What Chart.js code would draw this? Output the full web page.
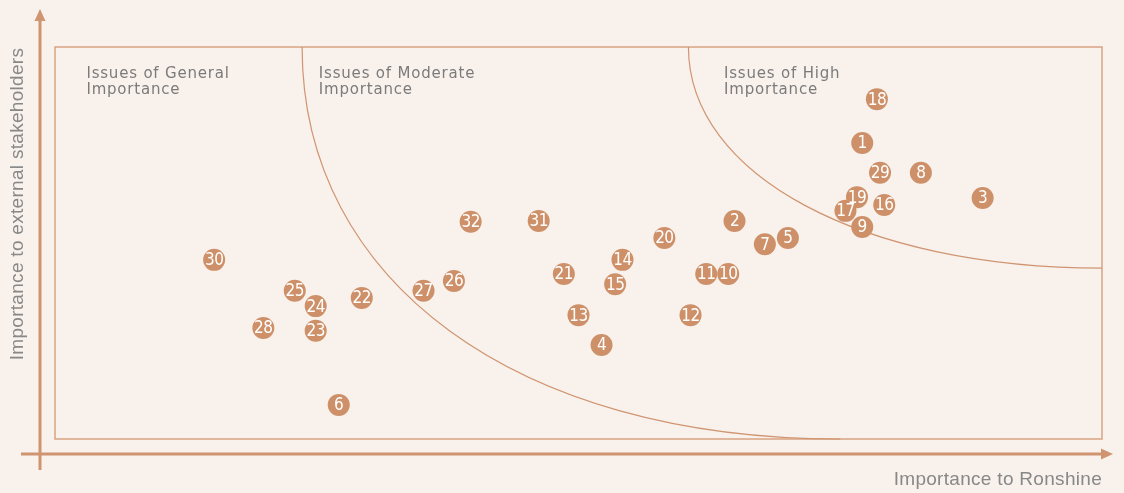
<!DOCTYPE html>
<html>
<head>
<meta charset="utf-8">
<script src="https://cdn.jsdelivr.net/npm/chart.js@4"></script>
<style>
  html, body { margin: 0; padding: 0; background: #f8f1ec; }
  #wrap { width: 1124px; height: 493px; position: relative; }
</style>
</head>
<body>
<div id="wrap"><canvas id="matrix"></canvas></div>
<script>
// issue numbers and their scores (0-100 on both axes)
const issueIds = [1,2,3,4,5,6,7,8,9,10,11,12,13,14,15,16,17,18,19,20,21,22,23,24,25,26,27,28,29,30,31,32];
const ronshineScores = [77.1,64.9,88.6,52.2,70.0,27.1,67.8,82.7,77.1,64.3,62.2,60.7,50.0,54.2,53.5,79.2,75.5,78.5,76.6,58.2,48.6,29.3,24.9,24.9,22.9,38.1,35.2,19.9,78.8,15.2,46.2,39.7];
const stakeholderScores = [75.5,55.6,61.5,24.0,51.3,8.7,49.7,67.9,54.1,42.1,42.1,31.6,31.6,45.7,39.5,59.7,58.2,86.7,61.7,51.3,42.1,36.0,27.6,33.9,37.8,40.3,37.8,28.3,67.9,45.7,55.6,55.4];

const zoneNames = [['Issues of General', 'Importance'], ['Issues of Moderate', 'Importance'], ['Issues of High', 'Importance']];
const zoneLabelX = [3.0, 25.2, 63.9];
const zoneLabelY = 92.1;

// zone boundaries: start (top edge) and end point of each curve
const moderateBoundary = [[23.6, 100], [75.0, 0]];
const highBoundary = [[60.5, 100], [100, 43.6]];

const xTitle = 'Importance to Ronshine';
const yTitle = 'Importance to external stakeholders';

const brown = '#cd9068';
const lineBrown = '#d09570';

const matrixDeco = {
  id: 'matrixDeco',
  beforeDatasetsDraw(chart) {
    const { ctx, chartArea: a, scales } = chart;
    const xs = scales.x, ys = scales.y;
    ctx.save();

    // outer box
    ctx.strokeStyle = '#d8a282';
    ctx.lineWidth = 1.5;
    ctx.strokeRect(a.left, a.top, a.right - a.left, a.bottom - a.top);

    // curved zone boundaries
    ctx.strokeStyle = lineBrown;
    ctx.lineWidth = 1.2;
    [[moderateBoundary, 0.6], [highBoundary, 0.58]].forEach(([b, k]) => {
      const x0 = xs.getPixelForValue(b[0][0]), y0 = ys.getPixelForValue(b[0][1]);
      const x1 = xs.getPixelForValue(b[1][0]), y1 = ys.getPixelForValue(b[1][1]);
      ctx.beginPath();
      ctx.moveTo(x0, y0);
      ctx.bezierCurveTo(x0, y0 + k * (y1 - y0), x1 - k * (x1 - x0), y1, x1, y1);
      ctx.stroke();
    });

    // zone names
    ctx.fillStyle = '#7b7b7b';
    ctx.font = '15px "DejaVu Sans"';
    ctx.letterSpacing = '0.8px';
    ctx.textBaseline = 'alphabetic';
    zoneNames.forEach((lines, i) => {
      const px = xs.getPixelForValue(zoneLabelX[i]);
      const py = ys.getPixelForValue(zoneLabelY);
      lines.forEach((t, j) => ctx.fillText(t, px, py + j * 16));
    });
    ctx.letterSpacing = '0px';

    // axes with arrows
    ctx.strokeStyle = lineBrown;
    ctx.fillStyle = lineBrown;
    ctx.lineWidth = 3;
    const ax = a.left - 15, ay = a.bottom + 15;
    ctx.beginPath();
    ctx.moveTo(ax, a.bottom + 31);
    ctx.lineTo(ax, 19);
    ctx.moveTo(a.left - 34, ay);
    ctx.lineTo(a.right + 1, ay);
    ctx.stroke();
    ctx.beginPath();
    ctx.moveTo(ax, 9); ctx.lineTo(ax - 5.5, 21); ctx.lineTo(ax + 5.5, 21); ctx.closePath();
    ctx.fill();
    ctx.beginPath();
    ctx.moveTo(a.right + 11, ay); ctx.lineTo(a.right - 1, ay - 5.5); ctx.lineTo(a.right - 1, ay + 5.5); ctx.closePath();
    ctx.fill();

    // axis titles
    ctx.fillStyle = '#888888';
    ctx.font = '19px "Liberation Sans"';
    ctx.letterSpacing = '0.3px';
    ctx.textAlign = 'right';
    ctx.textBaseline = 'middle';
    ctx.fillText(xTitle, a.right, 480);
    ctx.translate(18, 204);
    ctx.rotate(-Math.PI / 2);
    ctx.textAlign = 'center';
    ctx.fillText(yTitle, 0, 0);
    ctx.restore();
  },
  afterDatasetsDraw(chart) {
    const { ctx } = chart;
    const meta = chart.getDatasetMeta(0);
    ctx.save();
    ctx.fillStyle = '#ffffff';
    ctx.font = '17px "DejaVu Sans Condensed", "DejaVu Sans"';
    ctx.letterSpacing = '-0.5px';
    ctx.textAlign = 'center';
    ctx.textBaseline = 'middle';
    meta.data.forEach((pt, i) => {
      ctx.fillText(String(issueIds[i]), pt.x, pt.y + 1);
    });
    ctx.restore();
  }
};

new Chart(document.getElementById('matrix').getContext('2d'), {
  type: 'scatter',
  data: {
    datasets: [{
      label: 'Issues',
      data: issueIds.map((id, i) => ({ x: ronshineScores[i], y: stakeholderScores[i] })),
      backgroundColor: brown,
      borderWidth: 0,
      pointRadius: 11,
      pointHoverRadius: 11
    }]
  },
  options: {
    responsive: true,
    maintainAspectRatio: false,
    animation: false,
    layout: { padding: { left: 55, right: 22, top: 47, bottom: 54 } },
    scales: {
      x: { type: 'linear', min: 0, max: 100, display: false },
      y: { type: 'linear', min: 0, max: 100, display: false }
    },
    plugins: {
      legend: { display: false },
      tooltip: { enabled: false }
    }
  },
  plugins: [matrixDeco]
});
</script>
</body>
</html>
